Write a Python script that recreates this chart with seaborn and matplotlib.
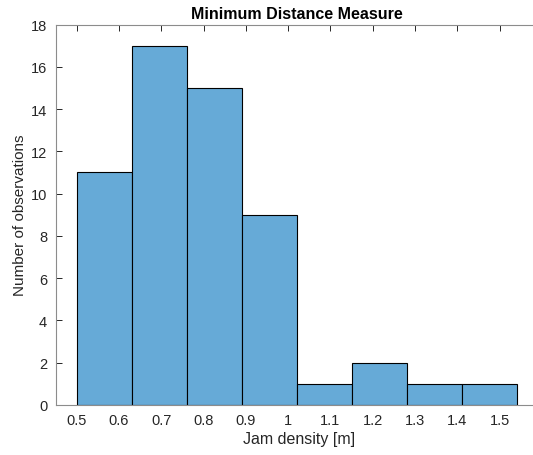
import matplotlib
matplotlib.use("Agg")
import matplotlib.pyplot as plt
import seaborn as sns
import numpy as np

# Histogram bins (jam density, metres) and observation counts per bin
bin_edges = [0.50, 0.63, 0.76, 0.89, 1.02, 1.15, 1.28, 1.41, 1.54]
counts = [11, 17, 15, 9, 1, 2, 1, 1]
x_ticks = [0.5, 0.6, 0.7, 0.8, 0.9, 1.0, 1.1, 1.2, 1.3, 1.4, 1.5]
x_tick_labels = ["0.5", "0.6", "0.7", "0.8", "0.9", "1", "1.1", "1.2", "1.3", "1.4", "1.5"]
y_ticks = [0, 2, 4, 6, 8, 10, 12, 14, 16, 18]

sns.set_theme(style="white")
plt.rcParams["font.family"] = ["Liberation Sans", "DejaVu Sans"]

fig = plt.figure(figsize=(5.33, 4.56), dpi=100)
ax = fig.add_axes([55.5 / 533, 50 / 456, (542 - 55.5) / 533, (406 - 25.5) / 456])

centers = [(a + b) / 2 for a, b in zip(bin_edges[:-1], bin_edges[1:])]
sns.histplot(x=centers, weights=counts, bins=bin_edges, ax=ax,
             color="#66AAD7", alpha=1.0, edgecolor="black", linewidth=0.8)

ax.set_xlim(0.45, 1.6)
ax.set_ylim(0, 18)
ax.set_xticks(x_ticks)
ax.set_xticklabels(x_tick_labels)
ax.set_yticks(y_ticks)

axis_col = "#262626"
for s in ax.spines.values():
    s.set_color("#8c8c8c")
    s.set_linewidth(0.8)
ax.tick_params(direction="in", length=4, width=0.7, color=axis_col,
               labelsize=10.5, labelcolor=axis_col, top=True, right=True,
               bottom=True, left=True, pad=6)

ax.set_xlabel("Jam density [m]", fontsize=11.5, color=axis_col, labelpad=3)
ax.set_ylabel("Number of observations", fontsize=11, color=axis_col, labelpad=3)
ax.set_title("Minimum Distance Measure", fontsize=11.5, fontweight="bold",
             color="black", pad=5)
ax.title.set_x((297 - 55.5) / (542 - 55.5))

fig.savefig("out.png", dpi=100)
